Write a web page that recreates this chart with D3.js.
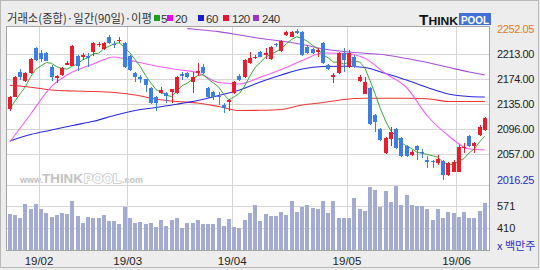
<!DOCTYPE html>
<html><head><meta charset="utf-8">
<script src="https://cdn.jsdelivr.net/npm/d3@7"></script>
<style>html,body{margin:0;padding:0;background:#fff;}svg{display:block;}</style>
</head><body><svg id="c" width="540" height="270"></svg>
<script>
// ---------- data ----------
const tradingDays = {
  "01": [24,25,28,29,30,31],
  "02": [1,7,8,11,12,13,14,15,18,19,20,21,22,25,26,27,28],
  "03": [4,5,6,7,8,11,12,13,14,15,18,19,20,21,22,25,26,27,28,29],
  "04": [1,2,3,4,5,8,9,10,11,12,15,16,17,18,19,22,23,24,25,26,29,30],
  "05": [2,3,7,8,9,10,13,14,15,16,17,20,21,22,23,24,27,28,29,30,31],
  "06": [3,4,5,7,10,11]
};
const openP = [2126.7,2146.3,2185.4,2170.9,2182.9,2221.9,2214.1,2215.0,2193.2,2175.5,
 2180.2,2196.6,2194.7,2209.9,2209.1,2209.9,2215.7,2226.3,2220.4,2240.0,
 2229.4,2233.3,2230.7,2209.9,2183.8,2177.6,2173.5,2159.5,2145.4,2152.6,
 2152.6,2154.1,2151.6,2181.0,2182.9,2169.8,2183.3,2193.2,2159.5,2154.1,
 2148.2,2133.4,2138.5,2152.6,2178.7,2176.6,2198.5,2206.3,2216.6,2211.5,
 2204.7,2227.9,2218.2,2242.7,2240.0,2248.5,2247.8,2223.5,2220.4,2216.9,
 2229.7,2195.8,2176.6,2182.9,2214.1,2193.2,2208.8,2171.3,2150.5,2159.5,
 2117.8,2095.9,2058.9,2079.8,2095.4,2082.3,2069.4,2055.3,2069.4,2059.7,
 2047.5,2045.6,2043.3,2046.4,2024.1,2029.2,2029.2,2065.8,2085.0,2069.4,
 2086.5,2094.3];
const highP = [2147.4,2179.4,2189.1,2184.9,2206.8,2223.9,2219.3,2216.9,2195.1,2180.2,
 2192.7,2202.1,2227.1,2211.5,2215.0,2215.0,2232.5,2232.2,2231.8,2242.7,
 2233.8,2238.8,2232.2,2212.2,2184.9,2180.2,2174.0,2160.7,2146.7,2161.5,
 2154.1,2158.4,2177.9,2185.4,2185.4,2185.4,2199.4,2197.4,2160.7,2155.2,
 2154.1,2136.0,2142.3,2170.9,2181.0,2205.2,2215.7,2211.5,2217.7,2221.9,
 2225.5,2230.2,2234.9,2249.7,2249.7,2252.05,2248.9,2225.5,2222.4,2221.9,
 2231.8,2197.4,2183.8,2216.1,2222.4,2219.3,2211.5,2180.2,2177.6,2160.7,
 2119.3,2097.5,2083.4,2099.5,2096.7,2083.4,2070.9,2063.1,2070.9,2064.2,
 2053.7,2047.5,2055.3,2047.5,2043.6,2047.5,2070.9,2073.6,2086.5,2076.1,
 2101.4,2115.1];
const lowP = [2124.5,2145.1,2172.4,2169.3,2181.8,2202.1,2201.0,2201.3,2170.9,2167.3,
 2178.7,2195.1,2193.5,2186.9,2203.6,2193.2,2209.9,2223.9,2218.5,2229.4,
 2221.9,2229.7,2191.9,2186.5,2169.8,2167.3,2154.1,2134.9,2124.5,2150.5,
 2136.5,2136.5,2150.5,2172.4,2175.1,2151.6,2178.7,2181.8,2144.3,2141.2,
 2133.4,2120.4,2124.5,2151.3,2171.6,2175.5,2197.4,2205.2,2207.6,2204.7,
 2203.6,2223.9,2216.9,2241.1,2238.8,2244.3,2209.9,2213.0,2213.0,2208.8,
 2197.4,2188.0,2167.3,2181.8,2185.4,2191.9,2191.9,2169.3,2149.8,2102.1,
 2091.7,2077.2,2057.6,2069.4,2065.4,2052.2,2052.2,2053.7,2047.5,2050.1,
 2034.5,2034.5,2039.7,2016.25,2022.5,2028.0,2028.0,2058.9,2067.8,2058.9,
 2085.0,2092.8];
const closeP = [2145.4,2177.6,2177.6,2182.9,2204.7,2203.6,2204.7,2202.6,2176.6,2177.9,
 2190.7,2199.7,2225.5,2194.7,2210.7,2206.3,2229.7,2228.9,2229.7,2230.7,
 2227.9,2234.9,2193.2,2188.0,2177.6,2173.5,2164.6,2136.0,2136.0,2156.8,
 2147.4,2157.9,2176.6,2179.4,2176.6,2177.6,2186.5,2184.1,2145.4,2145.4,
 2146.7,2128.2,2141.2,2169.8,2172.4,2203.6,2206.3,2208.8,2208.8,2214.1,
 2224.4,2226.3,2233.8,2246.6,2247.8,2245.3,2211.5,2214.1,2214.1,2219.3,
 2198.5,2189.1,2180.2,2215.0,2203.6,2214.1,2193.2,2177.6,2169.8,2103.7,
 2107.3,2078.7,2081.4,2091.7,2066.7,2053.7,2053.7,2060.5,2063.1,2058.1,
 2044.8,2044.1,2048.6,2024.1,2042.3,2044.8,2068.3,2068.3,2069.4,2073.6,
 2099.5,2112.6];
const volume = [512,504,484,586,549,588,549,517,489,504,
 517,512,608,497,447,489,484,484,504,460,
 460,437,566,484,447,455,435,447,413,465,
 425,465,484,406,447,447,465,435,440,440,
 480,425,477,413,406,465,517,578,460,512,
 497,497,524,504,608,529,566,578,556,549,
 608,517,608,484,484,480,633,549,536,714,
 690,566,685,599,719,581,650,578,571,571,
 549,465,549,484,529,517,492,524,484,480,
 536,593];
// four sessions before the window (estimated from where the 5-day line starts)
const priorCloses = [2118, 2120, 2128, 2127];
// moving averages read at sample sessions
const maIndex = [0,4,8,12,16,20,24,28,32,36,40,44,48,52,56,60,64,68,72,76,80,84,88,91];
const ma20 = [2075.6,2119.3,2162.3,2184.9,2197.4,2208.3,2201.3,2194.3,2188.8,2183.8,2168.5,2166.2,
 2176.6,2188.8,2202.9,2214.6,2214.1,2206.3,2182.6,2160.7,2116.2,2085.7,2064.7,2063.1];
const ma60 = [2077.2,2087.3,2094.3,2101.4,2107.9,2117.0,2124.8,2129.5,2134.5,2140.4,2148.2,2156.8,
 2169.3,2180.2,2189.6,2193.5,2193.8,2191.9,2182.6,2172.4,2160.7,2150.6,2146.7,2145.9];
const ma120 = [2164.1,2161.2,2156.8,2155.2,2154.5,2152.9,2149.0,2142.7,2138.8,2136.5,2131.0,2124.8,
 2125.1,2126.4,2133.4,2137.3,2142.0,2143.8,2143.8,2143.8,2143.1,2138.8,2138.8,2138.8];
const ma240Index = [34,36,40,44,48,52,56,60,64,68,72,76,80,84,88,91];
const ma240 = [2252.8,2251.3,2248.0,2242.7,2237.2,2233.3,2227.9,2221.1,2216.8,2214.1,2211.5,2206.0,2199.7,2192.2,2184.9,2180.2];

const priceTicks = [2252.05, 2213.00, 2174.00, 2135.00, 2096.00, 2057.00, 2016.25];
const volumeTicks = [571, 410];
const monthLabels = ["19/02","19/03","19/04","19/05","19/06"];
const legendLabels = ["5","20","60","120","240"];
const titleText = "거래소(종합)·일간(90일)·이평";

// ---------- derived ----------
const dates = [];
Object.keys(tradingDays).forEach(m => tradingDays[m].forEach(d => dates.push(`2019-${m}-${String(d).padStart(2,"0")}`)));
const bars = dates.map((d,i)=>({d, o:openP[i], h:highP[i], l:lowP[i], c:closeP[i], v:volume[i]}));
const allCloses = priorCloses.concat(closeP);
const ma5 = closeP.map((c,i)=> d3.mean(allCloses.slice(i, i+5)));

// ---------- layout ----------
const svg = d3.select("#c");
const L=7, R=489, T=27, PB=185, VB=250;
const x = d3.scaleBand().domain(dates).range([7.2, 487.44]).padding(0);
const bw = x.bandwidth();
const cx = d => x(d) + bw/2;
const y = d3.scaleLinear().domain([2016.25, 2252.05]).range([180, 29]);
const yv = d3.scaleLinear().domain([244.5, 726.8]).range([VB, PB]);

const FONT = "'Liberation Sans', Arial, sans-serif";
const KFONT = "'Noto Sans CJK KR', 'Noto Sans', sans-serif";

svg.append("rect").attr("width",540).attr("height",270).attr("fill","#ededed");
svg.append("rect").attr("x",0.5).attr("y",0.5).attr("width",538).attr("height",267)
  .attr("fill","none").attr("stroke","#b9b9b9");
svg.append("rect").attr("x",L).attr("y",T).attr("width",R-L).attr("height",VB-T).attr("fill","#fff");

// watermark
const wm = svg.append("g").attr("font-family",FONT).attr("font-weight","bold");
wm.append("text").attr("x",20).attr("y",183).attr("font-size",9).attr("fill","#c2c2c2").text("www.");
wm.append("text").attr("x",42).attr("y",183).attr("font-size",13).attr("fill","#c2c2c2")
  .attr("textLength",41).attr("lengthAdjust","spacingAndGlyphs").text("THINK");
wm.append("text").attr("x",84).attr("y",183).attr("font-size",13).attr("fill","#fff")
  .attr("stroke","#c8c8c8").attr("stroke-width",1.6).attr("paint-order","stroke")
  .attr("textLength",37).attr("lengthAdjust","spacingAndGlyphs").text("POOL");
wm.append("text").attr("x",122).attr("y",183).attr("font-size",9).attr("fill","#c2c2c2").text(".com");

// grid
const grid = svg.append("g").attr("stroke","#d6d6d6").attr("shape-rendering","crispEdges");
const monthStarts = dates.filter((d,i)=> i>0 && d.slice(5,7)!==dates[i-1].slice(5,7));
grid.selectAll(".vg").data(monthStarts).join("line")
  .attr("x1",d=>Math.round(x(d))+0.5).attr("x2",d=>Math.round(x(d))+0.5).attr("y1",T).attr("y2",VB);
grid.selectAll(".hg").data(priceTicks.slice(1,-1)).join("line")
  .attr("x1",L).attr("x2",R).attr("y1",d=>Math.round(y(d))+0.5).attr("y2",d=>Math.round(y(d))+0.5);
grid.selectAll(".vgl").data(volumeTicks).join("line")
  .attr("x1",L).attr("x2",R).attr("y1",d=>Math.round(yv(d))+0.5).attr("y2",d=>Math.round(yv(d))+0.5);
grid.append("line").attr("x1",L).attr("x2",R).attr("y1",PB+0.5).attr("y2",PB+0.5);

// volume
svg.append("g").attr("shape-rendering","crispEdges").selectAll("rect").data(bars).join("rect")
  .attr("x",d=>Math.round(cx(d.d)-2)).attr("width",4)
  .attr("y",d=>yv(d.v)).attr("height",d=>VB-yv(d.v)).attr("fill","#a3abd1");

// clip for price panel
svg.append("clipPath").attr("id","pc").append("rect").attr("x",L).attr("y",T).attr("width",R-L).attr("height",PB-T);
const price = svg.append("g").attr("clip-path","url(#pc)");

const line = d3.line().curve(d3.curveMonotoneX);
function maLine(idx, vals, color){
  price.append("path").attr("fill","none").attr("stroke",color).attr("stroke-width",1.1)
    .attr("d", line(idx.map((k,j)=>[cx(dates[k]), y(vals[j])])));
}
maLine(maIndex, ma120, "#ef3535");
maLine(ma240Index, ma240, "#a650d6");
maLine(maIndex, ma60, "#2a2ad6");
maLine(maIndex, ma20, "#f060f0");
price.append("path").attr("fill","none").attr("stroke","#3aa83a").attr("stroke-width",1)
  .attr("d", d3.line()(bars.map((b,i)=>[cx(b.d), y(ma5[i])])));

// candles
const cg = price.append("g").attr("shape-rendering","crispEdges");
const RED="#ea1d2c", BLUE="#3d7ee0";
const cand = cg.selectAll("g").data(bars).join("g");
cand.append("rect").attr("x",d=>Math.round(cx(d.d)-2)+1.5).attr("width",1)
  .attr("y",d=>y(d.h)).attr("height",d=>Math.max(1,y(d.l)-y(d.h)))
  .attr("fill",d=>d.c>=d.o?RED:BLUE);
cand.append("rect").attr("x",d=>Math.round(cx(d.d)-2)).attr("width",4)
  .attr("y",d=>y(Math.max(d.o,d.c))).attr("height",d=>Math.max(1,Math.abs(y(d.o)-y(d.c))))
  .attr("fill",d=>d.c>=d.o?RED:BLUE);

// plot border
svg.append("rect").attr("x",L-0.5).attr("y",T-0.5).attr("width",R-L+1).attr("height",VB-T+1)
  .attr("fill","none").attr("stroke","#a4a4a4").attr("shape-rendering","crispEdges");

// right axis labels
const ra = svg.append("g").attr("font-family",FONT).attr("font-size",11).attr("letter-spacing",-0.4);
ra.selectAll("text").data(priceTicks).join("text")
  .attr("x",497).attr("y",d=>y(d)+1.5).attr("dominant-baseline","middle")
  .attr("fill",(d,i)=> i===0 ? "#e57a22" : (i===priceTicks.length-1 ? "#2b2bc4" : "#222"))
  .text(d=>d.toFixed(2));
const va = svg.append("g").attr("font-family",FONT).attr("font-size",11);
va.selectAll("text").data(volumeTicks).join("text")
  .attr("x",497).attr("y",d=>yv(d)+1.5).attr("dominant-baseline","middle").attr("fill","#222").text(d=>d);
svg.append("text").attr("x",497).attr("y",247).attr("dominant-baseline","middle")
  .attr("font-family",KFONT).attr("font-size",11).attr("fill","#2b2bc4").text("x 백만주");

// x axis labels
svg.append("g").attr("font-family",FONT).attr("font-size",11.5).attr("fill","#222")
  .selectAll("text").data(monthStarts).join("text")
  .attr("x",d=>x(d)+0.5).attr("y",262).attr("text-anchor","middle").attr("dominant-baseline","middle")
  .text((d,i)=>monthLabels[i]);

// title & legend
svg.append("text").attr("x",7).attr("y",23).attr("font-family",KFONT).attr("font-size",12)
  .attr("fill","#333").attr("textLength",145).attr("lengthAdjust","spacingAndGlyphs").text(titleText);
const legColors = ["#1ea01e","#f000f0","#1c1cd0","#ee1133","#9933cc"];
const legSq = [154,167,198,223,253];
const legTx = [161,175,206,232,262];
const lg = svg.append("g");
legendLabels.forEach((t,i)=>{
  lg.append("rect").attr("x",legSq[i]).attr("y",15).attr("width",6).attr("height",6).attr("fill",legColors[i]);
  lg.append("text").attr("x",legTx[i]).attr("y",23).attr("font-family",FONT).attr("font-size",11.5)
    .attr("letter-spacing",-0.5).attr("fill","#333").text(t);
});

// logo
const logo = svg.append("g").attr("font-family",FONT).attr("font-weight","bold");
logo.append("text").attr("x",419).attr("y",25).attr("fill","#111")
  .attr("textLength",39).attr("lengthAdjust","spacingAndGlyphs")
  .html('<tspan font-size="14">T</tspan><tspan font-size="11">HINK</tspan>');
logo.append("rect").attr("x",459).attr("y",13).attr("width",32).attr("height",12).attr("fill","#3f71d6");
logo.append("text").attr("x",461).attr("y",24).attr("font-size",11.5).attr("fill","#fff")
  .attr("textLength",28).attr("lengthAdjust","spacingAndGlyphs").text("POOL");
</script></body></html>
